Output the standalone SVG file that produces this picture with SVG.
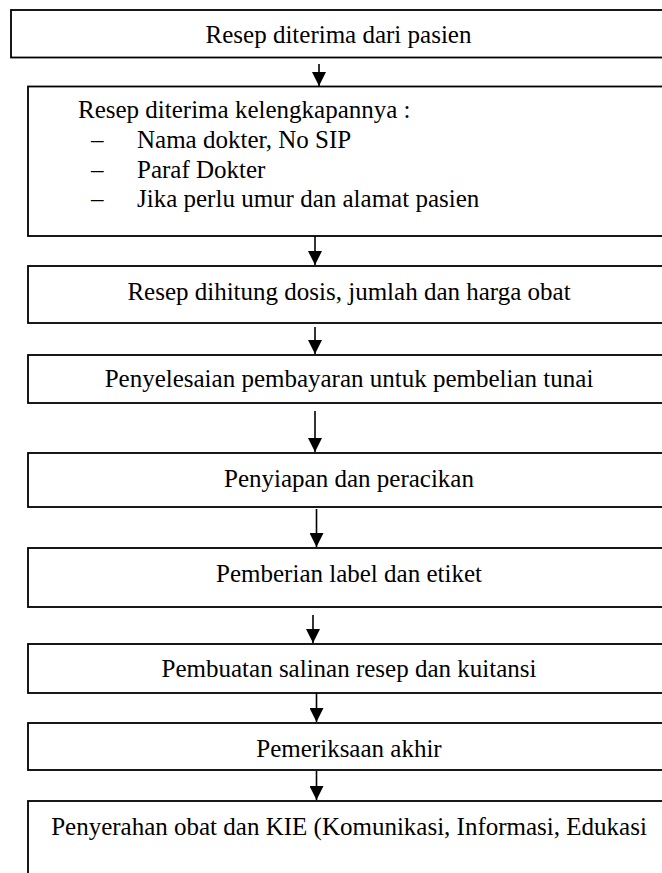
<svg xmlns="http://www.w3.org/2000/svg" width="662" height="873" viewBox="0 0 662 873">
<defs>
<style>
.box{fill:#fff;stroke:#000;stroke-width:1.8}
.t{font-family:"Liberation Serif","Times New Roman",serif;font-size:25px;fill:#000}
.c{text-anchor:middle}
.conn{stroke:#000;stroke-width:1.6;fill:none}
</style>
<marker id="ah" viewBox="0 0 14 14" refX="14" refY="7" markerWidth="14" markerHeight="14" markerUnits="userSpaceOnUse" orient="auto">
<path d="M0,0 L14,7 L0,14 Z" fill="#000"/>
</marker>
</defs>
<rect width="662" height="873" fill="#fff"/>
<g id="n1"><rect class="box" x="11" y="10" width="655" height="47.5"/><text class="t c" x="338.5" y="43">Resep diterima dari pasien</text></g>
<g id="n2"><rect class="box" x="28" y="86.5" width="642" height="149.5"/>
<text class="t" x="78" y="118">Resep diterima kelengkapannya :</text>
<text class="t" x="91" y="148">–</text><text class="t" x="137" y="148">Nama dokter, No SIP</text>
<text class="t" x="91" y="177.5">–</text><text class="t" x="137" y="177.5">Paraf Dokter</text>
<text class="t" x="91" y="207">–</text><text class="t" x="137" y="207">Jika perlu umur dan alamat pasien</text></g>
<g id="n3"><rect class="box" x="28" y="266" width="642" height="57"/><text class="t c" x="349" y="300">Resep dihitung dosis, jumlah dan harga obat</text></g>
<g id="n4"><rect class="box" x="28" y="355" width="642" height="48"/><text class="t c" x="349" y="387">Penyelesaian pembayaran untuk pembelian tunai</text></g>
<g id="n5"><rect class="box" x="28" y="453" width="642" height="54"/><text class="t c" x="349" y="487">Penyiapan dan peracikan</text></g>
<g id="n6"><rect class="box" x="28" y="548" width="642" height="59"/><text class="t c" x="349" y="582">Pemberian label dan etiket</text></g>
<g id="n7"><rect class="box" x="28" y="644" width="642" height="49"/><text class="t c" x="349" y="677">Pembuatan salinan resep dan kuitansi</text></g>
<g id="n8"><rect class="box" x="28" y="723" width="642" height="47"/><text class="t c" x="349" y="757">Pemeriksaan akhir</text></g>
<g id="n9"><rect class="box" x="28" y="801" width="642" height="100"/><text class="t c" x="349" y="835">Penyerahan obat dan KIE (Komunikasi, Informasi, Edukasi</text></g>
<g id="connectors">
<line class="conn" x1="319" y1="64" x2="319" y2="86" marker-end="url(#ah)"/>
<line class="conn" x1="315" y1="236" x2="315" y2="265" marker-end="url(#ah)"/>
<line class="conn" x1="315" y1="327" x2="315" y2="354" marker-end="url(#ah)"/>
<line class="conn" x1="315" y1="411" x2="315" y2="452" marker-end="url(#ah)"/>
<line class="conn" x1="316.5" y1="509" x2="316.5" y2="547" marker-end="url(#ah)"/>
<line class="conn" x1="313" y1="615" x2="313" y2="643" marker-end="url(#ah)"/>
<line class="conn" x1="316.5" y1="693" x2="316.5" y2="722" marker-end="url(#ah)"/>
<line class="conn" x1="316.5" y1="771" x2="316.5" y2="800" marker-end="url(#ah)"/>
</g>
</svg>
